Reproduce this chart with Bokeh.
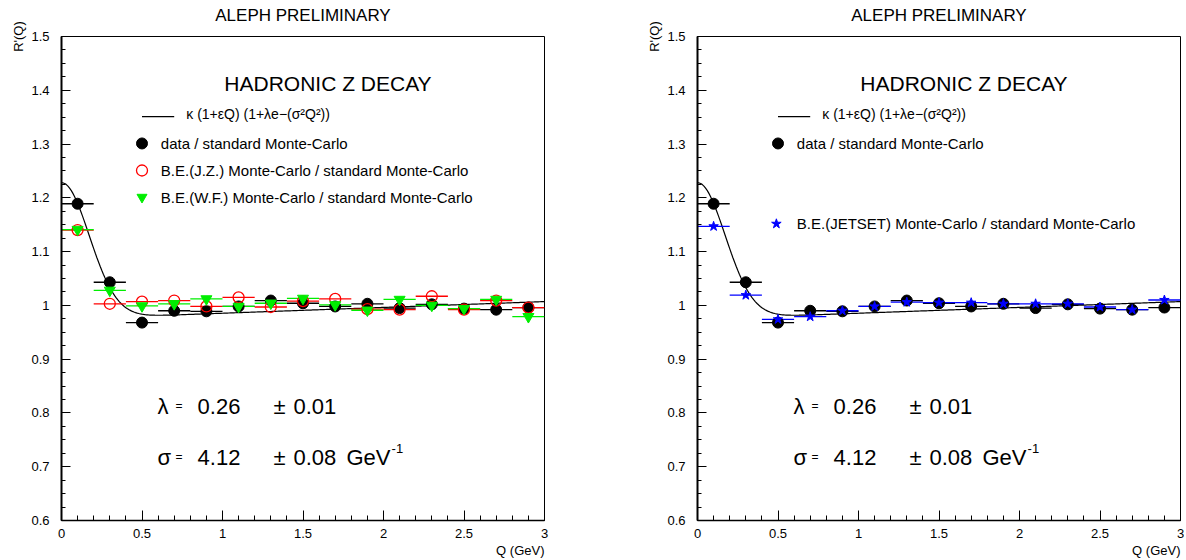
import numpy as np
from bokeh.plotting import figure
from bokeh.layouts import row
from bokeh.models import FixedTicker, Label, Title, LinearAxis
from bokeh.embed import file_html
from bokeh.resources import INLINE

# ---------------- data ----------------
q_centers = [0.1, 0.3, 0.5, 0.7, 0.9, 1.1, 1.3, 1.5, 1.7, 1.9, 2.1, 2.3, 2.5, 2.7, 2.9]
q_halfwidth = 0.1
data_ratio = [1.189, 1.043, 0.968, 0.990, 0.989, 0.998, 1.009, 1.004, 0.998,
              1.003, 0.995, 1.002, 0.994, 0.992, 0.996]
jz_ratio = [1.140, 1.003, 1.007, 1.009, 0.998, 1.015, 0.997, 1.008, 1.012,
            0.993, 0.992, 1.017, 0.992, 1.009, 0.996]
wf_ratio = [1.141, 1.028, 0.999, 1.003, 1.012, 0.998, 1.004, 1.013, 1.001,
            0.991, 1.011, 1.000, 0.994, 1.011, 0.979]
jetset_ratio = [1.147, 1.019, 0.974, 0.979, 0.990, 0.998, 1.006, 1.005, 1.005,
                1.003, 1.003, 1.003, 0.997, 0.992, 1.010]

# fit parameters  kappa (1+eps Q)(1+lambda exp(-(sigma Q)^2))
fit_kappa = 0.9746
fit_eps = 0.0111
fit_lambda = 0.26
fit_sigma = 4.12

x_major = [0, 0.5, 1, 1.5, 2, 2.5, 3]
x_labels = ["0", "0.5", "1", "1.5", "2", "2.5", "3"]
y_major = [0.6, 0.7, 0.8, 0.9, 1.0, 1.1, 1.2, 1.3, 1.4, 1.5]
y_labels = ["0.6", "0.7", "0.8", "0.9", "1", "1.1", "1.2", "1.3", "1.4", "1.5"]

title_text = "ALEPH PRELIMINARY"
x_title = "Q (GeV)"
y_title = "R'(Q)"
header_text = "HADRONIC Z DECAY"
fit_text = "κ (1+εQ) (1+λe−(σ²Q²))"
leg_data = "data / standard Monte-Carlo"
leg_jz = "B.E.(J.Z.) Monte-Carlo / standard Monte-Carlo"
leg_wf = "B.E.(W.F.) Monte-Carlo / standard Monte-Carlo"
leg_jetset = "B.E.(JETSET) Monte-Carlo / standard Monte-Carlo"
lam_val, lam_err = "0.26", "0.01"
sig_val, sig_err = "4.12", "0.08"

FONT = "Liberation Sans"

q_fit = np.linspace(0, 3, 301)
r_fit = fit_kappa * (1 + fit_eps * q_fit) * (1 + fit_lambda * np.exp(-(fit_sigma * q_fit) ** 2))

x_minor = [round(v, 3) for v in np.arange(0, 3.0001, 0.1)]
y_minor = [round(v, 4) for v in np.arange(0.6, 1.5001, 0.025)]


def lab(p, x, y, text, size, align="left", baseline="middle", angle=0, color="black"):
    p.add_layout(Label(x=x, y=y, text=text, text_font=FONT, text_font_size=size,
                       text_align=align, text_baseline=baseline, angle=angle,
                       text_color=color))


def make_fig(width, left, right):
    p = figure(width=width, height=559, x_range=(0, 3), y_range=(0.6, 1.5),
               min_border_left=left, min_border_right=right,
               min_border_top=36, min_border_bottom=39, title=None,
               toolbar_location=None, output_backend="svg")
    p.background_fill_color = "white"
    p.border_fill_color = "white"
    p.grid.visible = False
    p.outline_line_color = "black"
    p.outline_line_width = 1
    xa = p.below[0]
    ya = p.left[0]
    # title drawn as the label of a tick-less axis above the frame
    top = LinearAxis(ticker=FixedTicker(ticks=[], minor_ticks=[]), axis_label=title_text,
                     axis_line_color=None, major_tick_in=0, major_tick_out=0,
                     minor_tick_in=0, minor_tick_out=0, major_label_standoff=0,
                     major_label_text_font_size="0px",
                     axis_label_standoff=12, axis_label_text_font=FONT,
                     axis_label_text_font_size="17px", axis_label_text_font_style="normal",
                     axis_label_text_color="black")
    p.add_layout(top, "above")
    # ticks
    xa.ticker = FixedTicker(ticks=x_major, minor_ticks=x_minor)
    ya.ticker = FixedTicker(ticks=y_major, minor_ticks=y_minor)
    xa.major_label_overrides = {t: l for t, l in zip(x_major, x_labels)}
    ya.major_label_overrides = {t: l for t, l in zip(y_major, y_labels)}
    for ax in (xa, ya):
        ax.axis_line_color = "black"
        ax.major_tick_line_color = "black"
        ax.minor_tick_line_color = "black"
        ax.major_tick_out = 0
        ax.minor_tick_out = 0
        ax.major_label_text_font = FONT
        ax.major_label_text_font_size = "13px"
        ax.major_label_text_color = "black"
    # y axis title (top of axis)
    ya.axis_label = y_title
    ya.axis_label_text_font = FONT
    ya.axis_label_text_font_style = "normal"
    ya.axis_label_text_color = "black"
    ya.axis_label_text_font_size = "13px"
    ya.axis_label_standoff = 2
    try:
        ya.axis_label_align = "end"
    except Exception:
        pass
    # x axis title (right aligned, below tick labels)
    xt = Title(text=x_title, align="right", text_font=FONT, text_font_size="13px",
               text_font_style="normal", text_color="black", standoff=0)
    p.add_layout(xt, "below")
    xa.axis_line_width = 1.5
    ya.axis_line_width = 2
    xa.major_tick_in = 10
    xa.minor_tick_in = 5
    ya.major_tick_in = 9
    ya.minor_tick_in = 4
    xa.major_label_standoff = 8
    ya.major_label_standoff = 12
    # header and fit legend
    lab(p, 1.655, 1.4126, header_text, "21px", align="center")
    p.line([0.50, 0.70], [1.351, 1.351], line_color="black", line_width=1.2)
    lab(p, 0.775, 1.356, fit_text, "14px")
    # fit curve
    p.line(q_fit, r_fit, line_color="black", line_width=1.2)
    # lambda / sigma
    for yv, sym, val, err in ((0.812, "λ", lam_val, lam_err), (0.718, "σ", sig_val, sig_err)):
        lab(p, 0.596, yv, sym, "22px")
        lab(p, 0.708, yv, "=", "12px")
        lab(p, 0.845, yv, val, "22px")
        lab(p, 1.317, yv, "±", "22px")
        lab(p, 1.441, yv, err, "22px")
    lab(p, 1.77, 0.718, "GeV", "22px")
    lab(p, 2.05, 0.733, "-1", "13px")
    return p


def errbars(p, vals, color, width=1.3):
    x0 = [q - q_halfwidth for q in q_centers]
    x1 = [q + q_halfwidth for q in q_centers]
    p.segment(x0=x0, y0=vals, x1=x1, y1=vals, line_color=color, line_width=width)


# ---------------- left panel ----------------
p1 = make_fig(636, 61, 92)
errbars(p1, data_ratio, "black")
errbars(p1, jz_ratio, "#ff0000")
errbars(p1, wf_ratio, "#00ee00")
p1.scatter(q_centers, data_ratio, marker="circle", size=11, fill_color="black", line_color="black")
p1.scatter(q_centers, jz_ratio, marker="circle", size=11, fill_color=None, line_color="#ff0000", line_width=1.3)
p1.scatter(q_centers, wf_ratio, marker="inverted_triangle", size=11, fill_color="#00ee00", line_color="#00ee00")
# legend
p1.scatter([0.50], [1.3011], marker="circle", size=11, fill_color="black", line_color="black")
p1.scatter([0.50], [1.2508], marker="circle", size=11, fill_color=None, line_color="#ff0000", line_width=1.3)
p1.scatter([0.50], [1.2012], marker="inverted_triangle", size=10, fill_color="#00ee00", line_color="#00ee00")
lab(p1, 0.617, 1.3011, leg_data, "15px")
lab(p1, 0.617, 1.2508, leg_jz, "15px")
lab(p1, 0.617, 1.2012, leg_wf, "15px")

# ---------------- right panel ----------------
p2 = make_fig(548, 61, 4)
errbars(p2, data_ratio, "black")
errbars(p2, jetset_ratio, "#0000ff")
p2.scatter(q_centers, data_ratio, marker="circle", size=11, fill_color="black", line_color="black")
p2.scatter(q_centers, jetset_ratio, marker="star", size=10, fill_color="#0000ff", line_color="#0000ff")
p2.scatter([0.50], [1.3011], marker="circle", size=11, fill_color="black", line_color="black")
p2.scatter([0.49], [1.1517], marker="star", size=10, fill_color="#0000ff", line_color="#0000ff")
lab(p2, 0.617, 1.3011, leg_data, "15px")
lab(p2, 0.617, 1.1517, leg_jetset, "15px")

layout = row(p1, p2)
open("out.html", "w").write(file_html(layout, INLINE))
